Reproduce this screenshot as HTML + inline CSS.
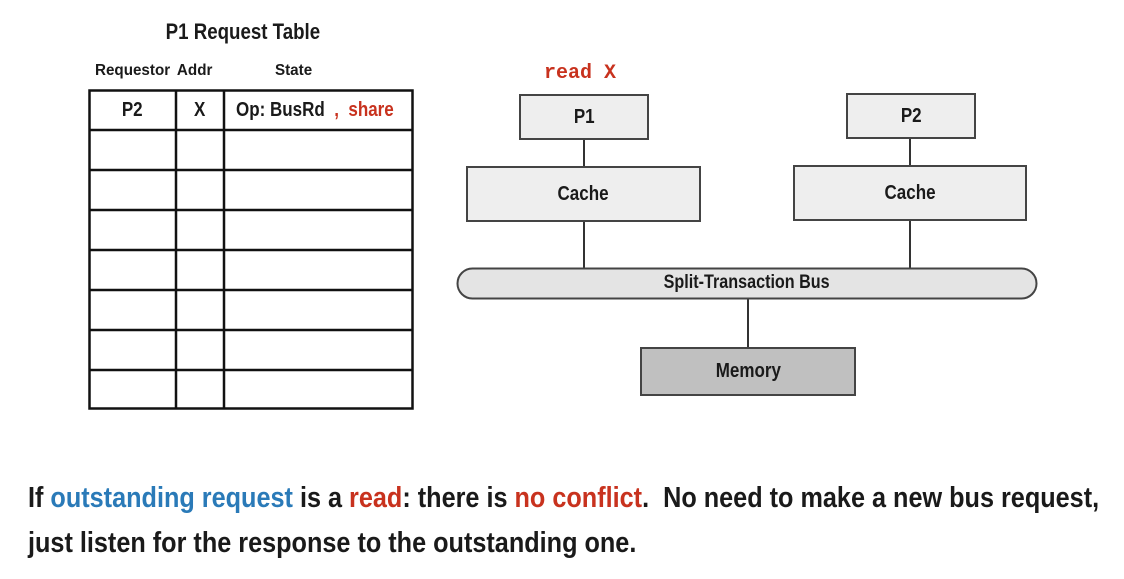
<!DOCTYPE html>
<html><head><style>
body{margin:0;width:1124px;height:579px;background:#fff;overflow:hidden;position:relative;font-family:"Liberation Sans Narrow","Liberation Sans",sans-serif;font-weight:bold;color:#1a1a1a}
.a{position:absolute}
.box{position:absolute;box-sizing:border-box;border:2px solid #444;background:#eee;display:flex;align-items:center;justify-content:center;font-size:20px}
.box span,.c{display:inline-block;transform:scaleX(.85)}
.t{position:absolute;font-size:16px;text-align:center}
</style></head><body>
<div class="a" style="left:0;width:486px;top:19px;text-align:center;font-size:22px"><span class="c">P1 Request Table</span></div>
<div class="t" style="left:84px;width:97px;top:62px"><span class="c" style="transform:scaleX(.95)">Requestor</span></div>
<div class="t" style="left:171px;width:48px;top:62px"><span class="c" style="transform:scaleX(.95)">Addr</span></div>
<div class="t" style="left:224px;width:140px;top:62px"><span class="c" style="transform:scaleX(.95)">State</span></div>
<svg class="a" style="left:0;top:0" width="1124" height="579">
<g stroke="#111" stroke-width="2.5" fill="none">
<rect x="89.5" y="90.5" width="323" height="318"/>
<line x1="176" y1="90" x2="176" y2="409"/><line x1="224" y1="90" x2="224" y2="409"/>
<line x1="89" y1="130" x2="413" y2="130"/><line x1="89" y1="170" x2="413" y2="170"/>
<line x1="89" y1="210" x2="413" y2="210"/><line x1="89" y1="250" x2="413" y2="250"/>
<line x1="89" y1="290" x2="413" y2="290"/><line x1="89" y1="330" x2="413" y2="330"/>
<line x1="89" y1="370" x2="413" y2="370"/>
</g>
<g stroke="#333" stroke-width="2">
<line x1="584" y1="139" x2="584" y2="268"/><line x1="910" y1="138" x2="910" y2="268"/>
<line x1="748" y1="299" x2="748" y2="347"/>
</g>
<rect x="457.5" y="268.5" width="579" height="30" rx="15" fill="#e4e4e4" stroke="#444" stroke-width="2"/>
</svg>
<div class="t" style="left:89px;width:87px;top:99px;font-size:20px"><span class="c">P2</span></div>
<div class="t" style="left:176px;width:48px;top:99px;font-size:20px"><span class="c">X</span></div>
<div class="a" style="left:236px;top:99px;font-size:20px;white-space:nowrap"><span class="c" style="transform-origin:left">Op: BusRd <span style="color:#c8321e">&nbsp;, &nbsp;share</span></span></div>
<div class="a" style="left:544px;top:62px;font-family:'Liberation Mono',monospace;font-size:20px;color:#c8321e">read X</div>
<div class="box" style="left:519px;top:94px;width:130px;height:46px"><span>P1</span></div>
<div class="box" style="left:846px;top:93px;width:130px;height:46px"><span>P2</span></div>
<div class="box" style="left:466px;top:166px;width:235px;height:56px"><span>Cache</span></div>
<div class="box" style="left:793px;top:165px;width:234px;height:56px"><span>Cache</span></div>
<div class="a" style="left:457px;width:580px;top:272px;text-align:center;font-size:19px"><span class="c">Split-Transaction Bus</span></div>
<div class="box" style="left:640px;top:347px;width:216px;height:49px;background:#c0c0c0"><span>Memory</span></div>
<div class="a" style="left:28px;top:476px;font-size:29px;line-height:45px;white-space:nowrap;transform:scaleX(.87);transform-origin:left top">If <span style="color:#2a7ab8">outstanding request</span> is a <span style="color:#c8321e">read</span>: there is <span style="color:#c8321e">no conflict</span>.&nbsp; No need to make a new bus request,<br>just listen for the response to the outstanding one.</div>
</body></html>
